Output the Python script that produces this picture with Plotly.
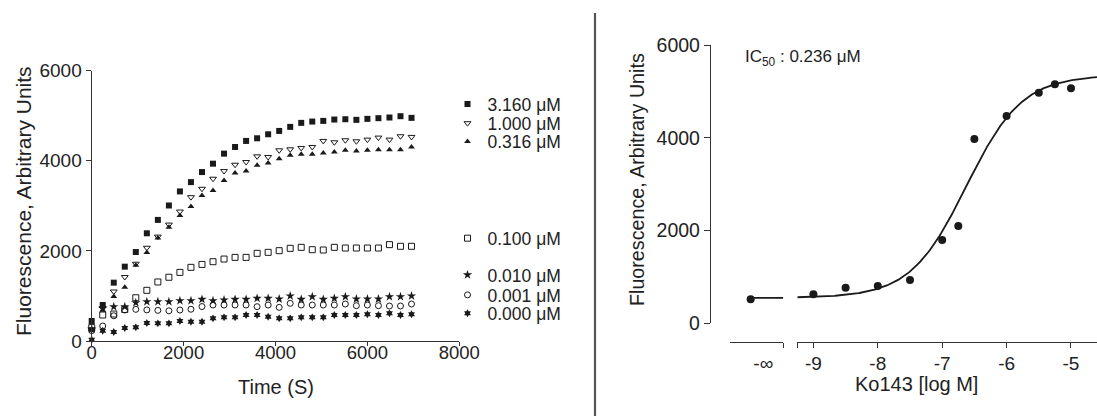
import numpy as np
import plotly.graph_objects as go

W, H = 1097, 416

# ---------------- data: left panel (time course) ----------------
times = [0, 240, 480, 720, 960, 1200, 1440, 1680, 1920, 2160, 2400, 2640, 2880, 3120, 3360,
         3600, 3840, 4080, 4320, 4560, 4800, 5040, 5280, 5520, 5760, 6000, 6240, 6480, 6720, 6960]

c3160 = [444, 799, 1295, 1650, 1975, 2391, 2688, 3008, 3320, 3527, 3750, 3936, 4159, 4307, 4441,
         4500, 4589, 4663, 4753, 4842, 4871, 4886, 4916, 4923, 4909, 4931, 4946, 4961, 4990, 4953]
c1000 = [260, 730, 1099, 1420, 1715, 2070, 2317, 2584, 2874, 3193, 3379, 3602, 3772, 3913, 3973,
         4099, 4084, 4233, 4255, 4285, 4307, 4441, 4411, 4456, 4433, 4470, 4515, 4470, 4545, 4530]
c0316 = [250, 680, 990, 1195, 1680, 1965, 2287, 2525, 2785, 2985, 3230, 3342, 3564, 3728, 3772,
         3899, 3951, 4047, 4121, 4144, 4144, 4173, 4196, 4233, 4218, 4233, 4248, 4248, 4248, 4307]
c0100 = [297, 577, 599, 700, 960, 1125, 1310, 1415, 1523, 1635, 1700, 1760, 1819, 1856, 1856,
         1946, 1968, 2005, 2057, 2079, 2027, 2020, 2079, 2064, 2064, 2064, 2064, 2139, 2102, 2102]
c0010 = [260, 725, 762, 762, 850, 873, 873, 873, 895, 895, 925, 895, 910, 925, 925,
         947, 947, 932, 999, 925, 984, 925, 947, 984, 932, 932, 932, 984, 984, 999]
c0001 = [230, 333, 560, 688, 703, 690, 680, 670, 688, 705, 765, 799, 799, 799, 799,
         762, 799, 747, 836, 799, 799, 799, 799, 821, 784, 799, 784, 777, 777, 821]
c0000 = [30, 229, 200, 290, 303, 400, 392, 392, 444, 429, 429, 503, 525, 525, 577,
         577, 540, 503, 503, 525, 525, 525, 577, 577, 577, 592, 577, 614, 577, 592]

series_labels = ["3.160 μM", "1.000 μM", "0.316 μM", "0.100 μM", "0.010 μM", "0.001 μM", "0.000 μM"]
series_values = [c3160, c1000, c0316, c0100, c0010, c0001, c0000]

# ---------------- data: right panel (dose response) ----------------
log_conc = [-9, -8.5, -8, -7.5, -7, -6.75, -6.5, -6, -5.5, -5.25, -5]
resp = [625, 768, 804, 934, 1796, 2098, 3974, 4470, 4972, 5153, 5067]
resp_zero = [517]          # response at zero Ko143 (plotted at "-∞")
zero_pos = [-10.0]         # nominal axis position used for "-∞"
x_tickvals = [-9, -8, -7, -6, -5]
x_ticktext = ["-9", "-8", "-7", "-6", "-5"]

# fitted 4-parameter logistic
fit_bottom, fit_top, fit_logic50, fit_hill = 550, 5350, np.log10(0.236e-6), 1.0

def px_x(p):
    return p / W

def px_y(p):
    return (H - p) / H

ink = "#1a1a1a"
axis_col = "#333333"
txt_col = "#222222"
FONT = "Liberation Sans, Arial, sans-serif"

fig = go.Figure()

# ---- left panel ----
markers = [
    dict(symbol="square", size=6, color=ink),
    dict(symbol="triangle-down-open", size=6, color=ink, line=dict(width=1, color=ink)),
    dict(symbol="triangle-up", size=6, color=ink),
    dict(symbol="square-open", size=6, color=ink, line=dict(width=1, color=ink)),
    dict(symbol="star", size=7, color=ink, line=dict(width=0)),
    dict(symbol="circle-open", size=6, color=ink, line=dict(width=1, color=ink)),
    dict(symbol="hexagram", size=6, color=ink, line=dict(width=0)),
]
legend_rows = [104, 123.3, 141.7, 238.3, 275, 295, 313.3]

for i, (lab, vals, mk) in enumerate(zip(series_labels, series_values, markers)):
    lg = "legend" if i == 0 else f"legend{i+1}"
    fig.add_trace(go.Scatter(x=times, y=vals, mode="markers", name=lab, marker=mk,
                             cliponaxis=False, xaxis="x", yaxis="y", legend=lg,
                             showlegend=True))

# ---- right panel ----
curve_x2 = np.linspace(-9.25, -4.596, 300)
curve_y2 = fit_bottom + (fit_top - fit_bottom) / (1 + 10 ** ((fit_logic50 - curve_x2) * fit_hill))
fig.add_trace(go.Scatter(x=curve_x2, y=curve_y2, mode="lines", line=dict(color=ink, width=1.8),
                         xaxis="x3", yaxis="y2", showlegend=False, hoverinfo="skip"))
fig.add_trace(go.Scatter(x=[-10.04, -9.493], y=[fit_bottom, fit_bottom], mode="lines",
                         line=dict(color=ink, width=1.8),
                         xaxis="x2", yaxis="y2", showlegend=False, hoverinfo="skip"))
fig.add_trace(go.Scatter(x=zero_pos, y=resp_zero, mode="markers",
                         marker=dict(symbol="circle", size=8, color=ink),
                         xaxis="x2", yaxis="y2", showlegend=False, cliponaxis=False))
fig.add_trace(go.Scatter(x=log_conc, y=resp, mode="markers",
                         marker=dict(symbol="circle", size=8, color=ink),
                         xaxis="x3", yaxis="y2", showlegend=False, cliponaxis=False))

def tf(size):
    return dict(family=FONT, size=size, color=txt_col)

common_axis = dict(showgrid=False, zeroline=False, showline=True, linecolor=axis_col,
                   linewidth=1.3, tickcolor=axis_col, tickwidth=1.3, automargin=False)

layout = dict(
    template="none",
    width=W, height=H, autosize=False, margin=dict(l=0, r=0, t=0, b=0, pad=0),
    paper_bgcolor="white", plot_bgcolor="white",
    font=dict(family=FONT, color=txt_col),
    xaxis=dict(domain=[px_x(91.7), px_x(459.3)], range=[0, 8000], anchor="y",
               tickvals=[0, 2000, 4000, 6000, 8000], ticks="outside", ticklen=4,
               ticklabelstandoff=-9, tickfont=tf(18.5), **common_axis),
    yaxis=dict(domain=[px_y(341), px_y(70.7)], range=[0, 6000], anchor="x",
               tickvals=[0, 2000, 4000, 6000], ticks="outside", ticklen=5,
               tickfont=tf(19), **common_axis),
    xaxis2=dict(domain=[px_x(730), px_x(783.3)], range=[-10.321, -9.493], anchor="free",
                position=px_y(342), tickvals=[-9.804], ticktext=["-∞"], ticks="", ticklen=0,
                minor=dict(tickvals=[-9.497], ticks="outside", ticklen=5, tickcolor=axis_col,
                           tickwidth=1.3, showgrid=False),
                ticklabelstandoff=4, tickfont=tf(19), **common_axis),
    xaxis3=dict(domain=[px_x(797.3), 1.0], range=[-9.25, -4.596], anchor="free",
                position=px_y(342), tickvals=x_tickvals, ticktext=x_ticktext,
                ticks="outside", ticklen=5,
                minor=dict(tickvals=[-9.246], ticks="outside", ticklen=5, tickcolor=axis_col,
                           tickwidth=1.3, showgrid=False),
                ticklabelstandoff=-1, tickfont=tf(19), **common_axis),
    yaxis2=dict(domain=[px_y(323.3), px_y(45)], range=[0, 6000], anchor="free",
                position=px_x(710), tickvals=[0, 2000, 4000, 6000], ticks="outside", ticklen=6,
                tickfont=tf(19.5), **common_axis),
    shapes=[dict(type="line", xref="paper", yref="paper", x0=px_x(595), x1=px_x(595),
                 y0=0, y1=px_y(13), line=dict(color="#555555", width=2.2))],
    annotations=[
        dict(text="Fluorescence, Arbitrary Units", xref="paper", yref="paper",
             x=px_x(24), y=px_y(201), textangle=-90, showarrow=False,
             font=tf(21), xanchor="center", yanchor="middle"),
        dict(text="Time (S)", xref="paper", yref="paper", x=px_x(276), y=px_y(387),
             showarrow=False, font=tf(20), xanchor="center", yanchor="middle"),
        dict(text="Fluorescence, Arbitrary Units", xref="paper", yref="paper",
             x=px_x(637), y=px_y(180), textangle=-90, showarrow=False,
             font=tf(19.7), xanchor="center", yanchor="middle"),
        dict(text="Ko143 [log M]", xref="paper", yref="paper", x=px_x(916.5), y=px_y(384),
             showarrow=False, font=tf(20), xanchor="center", yanchor="middle"),
        dict(text="IC<sub>50</sub> : 0.236 μM", xref="paper", yref="paper",
             x=px_x(743), y=px_y(58), showarrow=False,
             font=tf(17), xanchor="left", yanchor="middle"),
    ],
)

for i, ry in enumerate(legend_rows):
    key = "legend" if i == 0 else f"legend{i+1}"
    layout[key] = dict(x=px_x(447.5), xanchor="left", y=px_y(ry), yanchor="middle",
                       bgcolor="rgba(0,0,0,0)", borderwidth=0,
                       font=tf(17.5), itemsizing="trace")

fig.update_layout(**layout)
fig.write_html("out.html")
